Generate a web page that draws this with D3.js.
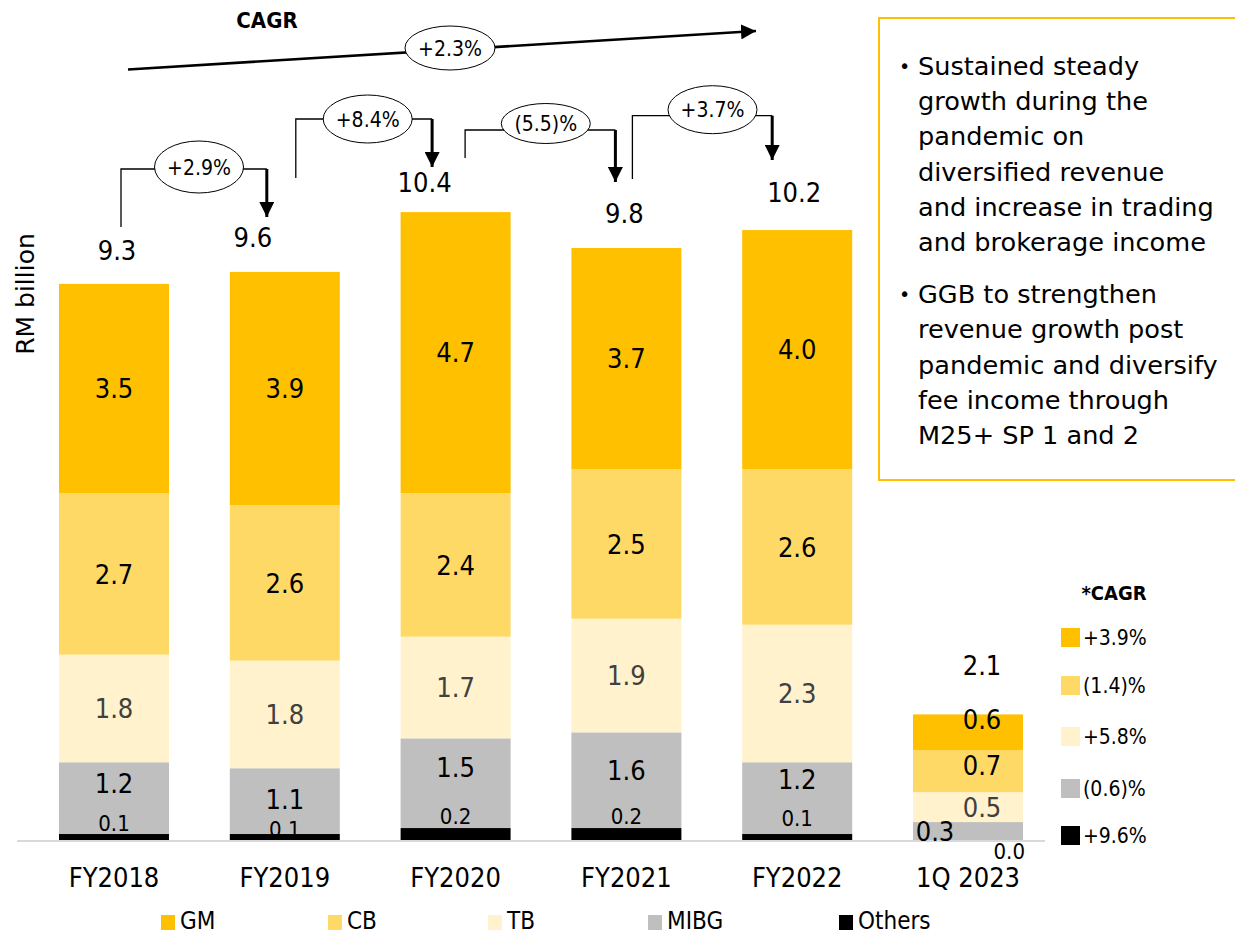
<!DOCTYPE html>
<html>
<head>
<meta charset="utf-8">
<script src="https://cdn.jsdelivr.net/npm/d3@7/dist/d3.min.js"></script>
<style>
  html, body { margin: 0; padding: 0; background: #ffffff; }
  svg { display: block; }
  .cond { font-family: "DejaVu Sans Condensed", "DejaVu Sans", sans-serif; font-stretch: condensed; }
  .reg { font-family: "DejaVu Sans", sans-serif; }
</style>
</head>
<body>
<svg id="chart" width="1235" height="936"></svg>
<script>
// ---- Revenue by segment, RM billion ----
const categories = ["FY2018", "FY2019", "FY2020", "FY2021", "FY2022", "1Q 2023"];
const segmentNames = ["GM", "CB", "TB", "MIBG", "Others"];
const gmValues = [3.5, 3.9, 4.7, 3.7, 4.0, 0.6];
const cbValues = [2.7, 2.6, 2.4, 2.5, 2.6, 0.7];
const tbValues = [1.8, 1.8, 1.7, 1.9, 2.3, 0.5];
const mibgValues = [1.2, 1.1, 1.5, 1.6, 1.2, 0.3];
const othersValues = [0.1, 0.1, 0.2, 0.2, 0.1, 0.0];
const totalValues = [9.3, 9.6, 10.4, 9.8, 10.2, 2.1];

// year-on-year growth between consecutive financial years
const yoyGrowth = ["+2.9%", "+8.4%", "(5.5)%", "+3.7%"];
const overallCagr = "+2.3%";
// CAGR per segment, same order as segmentNames
const segmentCagr = ["+3.9%", "(1.4)%", "+5.8%", "(0.6)%", "+9.6%"];

const commentary = [
  ["Sustained steady", "growth during the", "pandemic on", "diversified revenue", "and increase in trading", "and brokerage income"],
  ["GGB to strengthen", "revenue growth post", "pandemic and diversify", "fee income through", "M25+ SP 1 and 2"]
];

// ---- styling ----
const colors = { GM: "#FFC000", CB: "#FFD966", TB: "#FFF2CC", MIBG: "#BFBFBF", Others: "#000000" };
const labelColors = { GM: "#000000", CB: "#000000", TB: "#404040", MIBG: "#000000", Others: "#000000" };

// hand placement of some value labels (dx, dy in px from the segment centre)
const labelNudge = {
  GM:     [[0,0],[0,0],[0,0],[0,0],[0,0],[14,-13]],
  CB:     [[0,0],[0,0],[0,0],[0,0],[0,0],[14,-6]],
  TB:     [[0,0],[0,0],[0,0],[0,0],[0,0],[14,0]],
  MIBG:   [[0,-15],[0,-2],[0,-16],[0,-10],[0,-19],[-33,0]],
  Others: [[0,-14],[0,-8],[0,-18],[0,-18],[0,-19],[40,11]]
};
const totalGap = [24, 19, 26, 31, 28, 39];
const totalDx = [3, -32, -31, -2, -3, 14];

const svg = d3.select("#chart");

// ---- scales ----
const baseline = 840;
const x = d3.scaleBand()
  .domain(categories)
  .range([28.6, 1053.4])
  .paddingInner(0.356)
  .paddingOuter(0.178);
const y = d3.scaleLinear().domain([0, 10]).range([baseline, baseline - 598]);

const rows = categories.map((c, i) => ({
  category: c,
  GM: gmValues[i], CB: cbValues[i], TB: tbValues[i], MIBG: mibgValues[i], Others: othersValues[i]
}));
const stackOrder = ["Others", "MIBG", "TB", "CB", "GM"];
const stacked = d3.stack().keys(stackOrder)(rows);

// ---- bars ----
const layers = svg.append("g").selectAll("g")
  .data(stacked).join("g")
  .attr("fill", d => colors[d.key]);

layers.selectAll("rect")
  .data(d => d.map(p => ({ key: d.key, p })))
  .join("rect")
  .attr("x", d => x(d.p.data.category))
  .attr("width", x.bandwidth())
  .attr("y", d => y(d.p[1]))
  .attr("height", d => y(d.p[0]) - y(d.p[1]));

// baseline
svg.append("line")
  .attr("x1", 17).attr("x2", 1045)
  .attr("y1", baseline + 1).attr("y2", baseline + 1)
  .attr("stroke", "#D9D9D9").attr("stroke-width", 2);

// ---- segment value labels ----
stacked.forEach(layer => {
  const key = layer.key;
  layer.forEach((p, i) => {
    const cx = x(p.data.category) + x.bandwidth() / 2 + labelNudge[key][i][0];
    const cy = (y(p[0]) + y(p[1])) / 2 + labelNudge[key][i][1];
    const small = key === "Others";
    const t = svg.append("text")
      .attr("class", "cond")
      .attr("x", cx).attr("y", cy)
      .attr("dy", "0.36em")
      .attr("text-anchor", "middle")
      .attr("font-size", small ? 22 : 27)
      .attr("fill", labelColors[key])
      .text(d3.format(".1f")(p.data[key]));
    if (small && i === categories.length - 1) t.attr("text-anchor", "end").attr("x", x(p.data.category) + x.bandwidth() + 2);
  });
});

// ---- totals ----
svg.append("g").selectAll("text")
  .data(totalValues).join("text")
  .attr("class", "cond")
  .attr("x", (d, i) => x(categories[i]) + x.bandwidth() / 2 + totalDx[i])
  .attr("y", (d, i) => y(d) - totalGap[i])
  .attr("text-anchor", "middle")
  .attr("font-size", 27)
  .text(d => d3.format(".1f")(d));

// ---- x axis labels ----
svg.append("g").selectAll("text")
  .data(categories).join("text")
  .attr("class", "cond")
  .attr("x", d => x(d) + x.bandwidth() / 2)
  .attr("y", 887)
  .attr("text-anchor", "middle")
  .attr("font-size", 27)
  .text(d => d);

// ---- y axis title ----
svg.append("text")
  .attr("class", "reg")
  .attr("transform", "translate(34,294) rotate(-90)")
  .attr("text-anchor", "middle")
  .attr("font-size", 25)
  .text("RM billion");

// ---- arrow marker ----
const defs = svg.append("defs");
defs.append("marker")
  .attr("id", "head").attr("viewBox", "0 0 10 10")
  .attr("refX", 10).attr("refY", 5)
  .attr("markerUnits", "userSpaceOnUse")
  .attr("markerWidth", 15).attr("markerHeight", 15)
  .attr("orient", "auto")
  .append("path").attr("d", "M0,0 L10,5 L0,10 Z").attr("fill", "#000");

// ---- year-on-year brackets ----
const centre = i => x(categories[i]) + x.bandwidth() / 2;
const brackets = [
  { from: 0, to: 1, lx: 7,   rx: -18,   top: 169,   bottom: 227, tip: 217, ex: 199,   ey: 167,   ry: 26 },
  { from: 1, to: 2, lx: 11,  rx: -23.5, top: 119,   bottom: 178, tip: 167, ex: 367.7, ey: 119,   ry: 24 },
  { from: 2, to: 3, lx: 9.5, rx: -11,   top: 130,   bottom: 158, tip: 182, ex: 545.8, ey: 123.5, ry: 20 },
  { from: 3, to: 4, lx: 6,   rx: -25,   top: 115.7, bottom: 179, tip: 160, ex: 712.5, ey: 109.7, ry: 24 }
];
brackets.forEach((b, k) => {
  const x1 = centre(b.from) + b.lx;
  const x2 = centre(b.to) + b.rx;
  svg.append("path")
    .attr("d", `M${x1},${b.bottom} V${b.top} H${x2}`)
    .attr("fill", "none").attr("stroke", "#000").attr("stroke-width", 1.3);
  svg.append("line")
    .attr("x1", x2).attr("x2", x2)
    .attr("y1", b.top).attr("y2", b.tip)
    .attr("stroke", "#000").attr("stroke-width", 3)
    .attr("marker-end", "url(#head)");
  svg.append("ellipse")
    .attr("cx", b.ex).attr("cy", b.ey).attr("rx", 44.5).attr("ry", b.ry)
    .attr("fill", "#fff").attr("stroke", "#000").attr("stroke-width", 1);
  svg.append("text")
    .attr("class", "cond")
    .attr("x", b.ex).attr("y", b.ey).attr("dy", "0.36em")
    .attr("text-anchor", "middle").attr("font-size", 21)
    .text(yoyGrowth[k]);
});

// ---- overall CAGR arrow ----
svg.append("text")
  .attr("class", "cond")
  .attr("x", 267).attr("y", 28)
  .attr("text-anchor", "middle")
  .attr("font-size", 22).attr("font-weight", "bold")
  .text("CAGR");
svg.append("line")
  .attr("x1", 128).attr("y1", 69.5).attr("x2", 756).attr("y2", 31)
  .attr("stroke", "#000").attr("stroke-width", 2.6)
  .attr("marker-end", "url(#head)");
svg.append("ellipse")
  .attr("cx", 450).attr("cy", 48).attr("rx", 45).attr("ry", 22)
  .attr("fill", "#fff").attr("stroke", "#000").attr("stroke-width", 1);
svg.append("text")
  .attr("class", "cond")
  .attr("x", 450).attr("y", 48).attr("dy", "0.36em")
  .attr("text-anchor", "middle").attr("font-size", 21)
  .text(overallCagr);

// ---- commentary box ----
svg.append("rect")
  .attr("x", 879).attr("y", 18).attr("width", 380).attr("height", 462)
  .attr("fill", "none").attr("stroke", "#FFC000").attr("stroke-width", 2);
let lineY = 75;
commentary.forEach(para => {
  svg.append("text").attr("class", "reg")
    .attr("x", 899).attr("y", lineY - 2).attr("font-size", 19).text("•");
  para.forEach(line => {
    svg.append("text").attr("class", "reg")
      .attr("x", 918).attr("y", lineY)
      .attr("font-size", 25.6).attr("fill", "#000")
      .text(line);
    lineY += 35.2;
  });
  lineY += 17;
});

// ---- segment CAGR legend ----
svg.append("text")
  .attr("class", "cond")
  .attr("x", 1114).attr("y", 600)
  .attr("text-anchor", "middle").attr("font-size", 20).attr("font-weight", "bold")
  .text("*CAGR");
const cagrRowY = [628, 676, 727, 779, 826];
segmentNames.forEach((s, i) => {
  svg.append("rect")
    .attr("x", 1061).attr("y", cagrRowY[i]).attr("width", 19).attr("height", 19)
    .attr("fill", colors[s]);
  svg.append("text")
    .attr("class", "cond")
    .attr("x", 1083).attr("y", cagrRowY[i] + 9.5).attr("dy", "0.36em")
    .attr("font-size", 21)
    .text(segmentCagr[i]);
});

// ---- bottom legend ----
const legendX = [161, 328, 488, 648, 839];
segmentNames.forEach((s, i) => {
  svg.append("rect")
    .attr("x", legendX[i]).attr("y", 915).attr("width", 14).attr("height", 15)
    .attr("fill", colors[s]);
  svg.append("text")
    .attr("class", "cond")
    .attr("x", legendX[i] + 19).attr("y", 929)
    .attr("font-size", 24)
    .text(s);
});
</script>
</body>
</html>
